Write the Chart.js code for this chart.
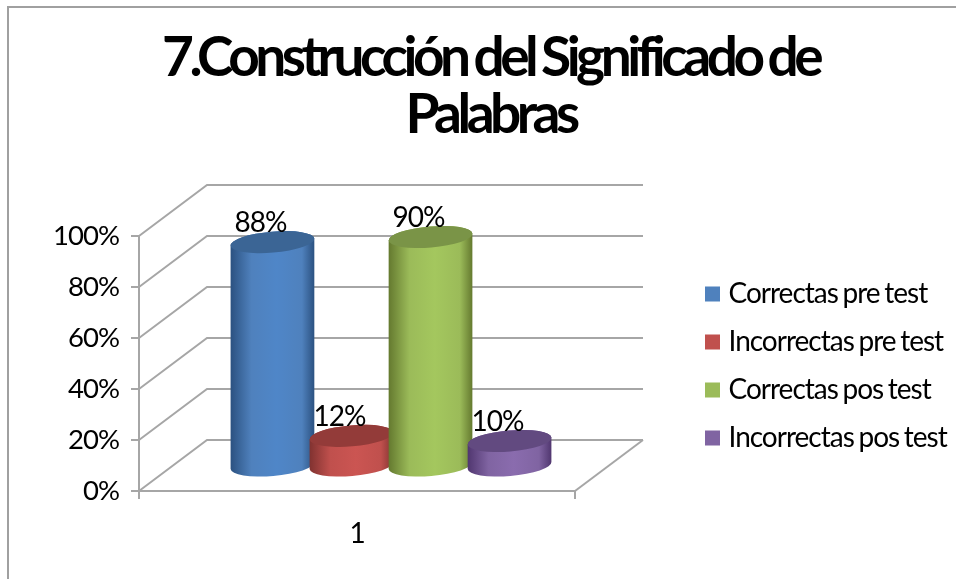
<!DOCTYPE html>
<html>
<head>
<meta charset="utf-8">
<title>Construcción del Significado de Palabras</title>
<script src="https://cdn.jsdelivr.net/npm/chart.js@4"></script>
<style>
  html, body { margin: 0; padding: 0; background: #fff; }
  canvas { display: block; }
</style>
</head>
<body>
<canvas id="chart" width="956" height="579"></canvas>
<script>
const categories = ['1']
const seriesNames = ['Correctas pre test', 'Incorrectas pre test', 'Correctas pos test', 'Incorrectas pos test']
const correctasPre = [88]
const incorrectasPre = [12]
const correctasPos = [90]
const incorrectasPos = [10]

const barColors = ['#4f81bd', '#c0504d', '#9bbb59', '#8064a2']
const barMids = ['#4f86c8', '#cb5552', '#a4c75e', '#8a6cae']
const barEdges = ['#2b5180', '#803230', '#64792f', '#50366f']
const barTops = ['#3b6595', '#933b39', '#7a9447', '#624a80']

const gridColor = '#a6a6a6'
const fontName = "Lato, 'Open Sans', sans-serif"

// fake 3D box: how far the back wall sits from the front plane
const depthX = 68
const depthY = 51

function setSpacing(ctx, letters, words) {
  ctx.letterSpacing = letters + 'px'
  ctx.wordSpacing = words + 'px'
}

// keeps the tight Calibri look, the title gets its own spacing
const tightText = {
  id: 'tightText',
  beforeUpdate(chart) { setSpacing(chart.ctx, -1, -1.5) },
  beforeDraw(chart) { setSpacing(chart.ctx, -1, -1.5) },
}

// title and legend do not sit where Chart.js would put them
const pinBoxes = {
  id: 'pinBoxes',
  afterLayout(chart) {
    const title = chart.titleBlock
    title.left = 25
    title.right = 956
    if (!title.wrapped) {
      const draw = title.draw.bind(title)
      title.draw = () => {
        setSpacing(chart.ctx, -4.5, -2)
        draw()
        setSpacing(chart.ctx, -1, -1.5)
      }
      title.wrapped = true
    }
    const legend = chart.legend
    legend.left = 690.5
    legend.right = 956
    legend.top = 260
    legend.bottom = 579
  },
}

const frame = {
  id: 'frame',
  beforeDraw(chart) {
    const ctx = chart.ctx
    ctx.save()
    ctx.strokeStyle = '#a0a0a0'
    ctx.lineWidth = 2
    ctx.beginPath()
    ctx.moveTo(8, 579)
    ctx.lineTo(8, 7)
    ctx.lineTo(956, 7)
    ctx.stroke()
    ctx.restore()
  },
}

const wall = {
  id: 'wall',
  beforeDatasetsDraw(chart) {
    const ctx = chart.ctx
    const { left, right, bottom } = chart.chartArea
    const y = chart.scales.y
    ctx.save()
    ctx.strokeStyle = gridColor
    ctx.lineWidth = 2
    y.ticks.forEach((t) => {
      const py = y.getPixelForValue(t.value)
      ctx.beginPath()
      ctx.moveTo(left, py)
      ctx.lineTo(left + depthX, py - depthY)
      ctx.lineTo(right + depthX, py - depthY)
      ctx.stroke()
    })
    ctx.beginPath()
    ctx.moveTo(right, bottom)
    ctx.lineTo(right + depthX, bottom - depthY)
    ctx.stroke()
    ctx.restore()
  },
}

// bars are replaced by cylinders, placed from the bar elements themselves
const cylinders = {
  id: 'cylinders',
  beforeDatasetDraw() { return false },
  afterDatasetsDraw(chart) {
    const ctx = chart.ctx
    const tilt = -0.085
    const ry = 10.5
    const labels = []
    chart.data.datasets.forEach((ds, i) => {
      chart.getDatasetMeta(i).data.forEach((bar, j) => {
        const cx = bar.x + depthX / 2
        const r = bar.width / 2 + 2.5
        const baseY = bar.base - depthY / 2 + 1
        const topY = bar.y - depthY / 2 + 1
        const grad = ctx.createLinearGradient(cx - r, 0, cx + r, 0)
        grad.addColorStop(0, barEdges[i])
        grad.addColorStop(0.25, barColors[i])
        grad.addColorStop(0.55, barMids[i])
        grad.addColorStop(0.85, barColors[i])
        grad.addColorStop(1, barEdges[i])
        ctx.beginPath()
        ctx.ellipse(cx, baseY, r, ry, tilt, 0, Math.PI)
        ctx.ellipse(cx, topY, r, ry, tilt, Math.PI, Math.PI * 2)
        ctx.closePath()
        ctx.fillStyle = grad
        ctx.fill()
        ctx.beginPath()
        ctx.ellipse(cx, topY, r, ry, tilt, 0, Math.PI * 2)
        ctx.fillStyle = barTops[i]
        ctx.fill()
        labels.push({ text: ds.data[j] + '%', x: cx - 12, y: topY - 19 })
      })
    })
    ctx.save()
    ctx.font = '28px ' + fontName
    ctx.fillStyle = '#000'
    ctx.textAlign = 'center'
    ctx.textBaseline = 'middle'
    labels.forEach((l) => ctx.fillText(l.text, l.x, l.y))
    ctx.restore()
  },
}

const seriesValues = [correctasPre, incorrectasPre, correctasPos, incorrectasPos]

new Chart(document.getElementById('chart'), {
  type: 'bar',
  plugins: [tightText, pinBoxes, frame, wall, cylinders],
  data: {
    labels: categories,
    datasets: seriesNames.map((name, i) => ({
      label: name,
      data: seriesValues[i],
      backgroundColor: barColors[i],
      borderColor: barColors[i],
      borderWidth: 11,
      categoryPercentage: 0.725,
      barPercentage: 1,
    })),
  },
  options: {
    responsive: false,
    animation: false,
    layout: { padding: { left: 25, right: 132, top: 0, bottom: 0 } },
    plugins: {
      tooltip: { enabled: false },
      title: {
        display: true,
        text: ['7.Construcción del Significado de', 'Palabras'],
        color: '#000',
        font: { family: fontName, size: 55, weight: 'bold', lineHeight: 57 / 55 },
        padding: { top: 30, bottom: 92 },
      },
      legend: {
        position: 'right',
        align: 'start',
        maxWidth: 249,
        labels: {
          boxWidth: 4,
          boxHeight: 4,
          padding: 20,
          color: '#000',
          font: { family: fontName, size: 28 },
        },
      },
    },
    scales: {
      x: {
        afterFit(scale) { scale.height = 88 },
        grid: { drawOnChartArea: false, color: gridColor, lineWidth: 2, tickLength: 8 },
        border: { color: gridColor, width: 2 },
        ticks: { color: '#000', padding: 18, font: { family: fontName, size: 28 } },
      },
      y: {
        min: 0,
        max: 100,
        afterFit(scale) { scale.width = 114 },
        grid: { drawOnChartArea: false, color: gridColor, lineWidth: 2, tickLength: 8 },
        border: { color: gridColor, width: 2 },
        ticks: {
          stepSize: 20,
          color: '#000',
          padding: 12,
          font: { family: fontName, size: 27.5 },
          callback: (v) => v + '%',
        },
      },
    },
  },
})
</script>
</body>
</html>
